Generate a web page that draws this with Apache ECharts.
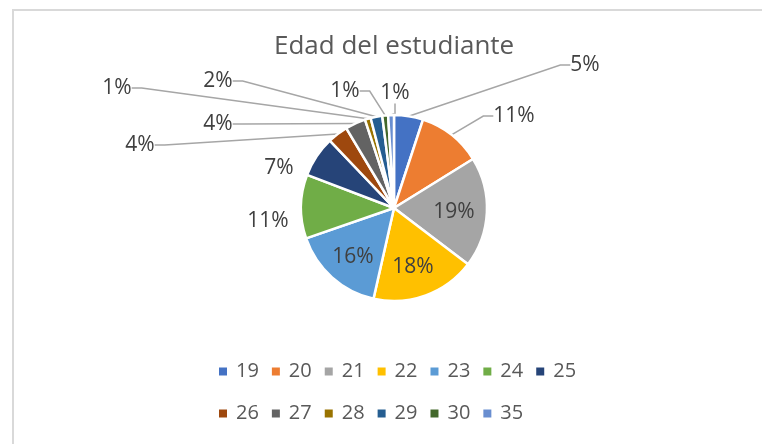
<!DOCTYPE html>
<html>
<head>
<meta charset="utf-8">
<script src="https://cdn.jsdelivr.net/npm/echarts@6/dist/echarts.min.js"></script>
<style>
  html, body { margin: 0; padding: 0; background: #fff; }
  #frame { position: absolute; left: 12px; top: 9px; width: 800px; height: 500px;
           border-left: 2px solid #d9d9d9; border-top: 2px solid #d9d9d9; }
  #chart { position: absolute; left: 0; top: 0; width: 762px; height: 444px; }
</style>
</head>
<body>
<div id="frame"></div>
<div id="chart"></div>
<script>
const ages = ['19', '20', '21', '22', '23', '24', '25', '26', '27', '28', '29', '30', '35']
const shares = [5, 11, 19, 18, 16, 11, 7, 3.5, 3.5, 1, 2, 1, 1]
const colors = ['#4472C4', '#ED7D31', '#A5A5A5', '#FFC000', '#5B9BD5', '#70AD47', '#264478',
  '#9E480E', '#636363', '#997300', '#255E91', '#43682B', '#698ED0']

// where each percentage label sits (Excel placed them by hand-ish)
const labelSpots = [
  [585, 65], [514, 116], [454, 212], [413, 267], [353, 257], [268, 221], [279, 168],
  [140, 145], [218, 124], [117, 88], [218, 81], [345, 91], [395, 93]
]
const insideIdx = [2, 3, 4]
const noLineIdx = [5, 6]

const font = '"Open Sans", sans-serif'
const chart = echarts.init(document.getElementById('chart'))

chart.setOption({
  animation: false,
  color: colors,
  title: {
    text: 'Edad del estudiante',
    left: 269,
    top: 29,
    textStyle: { fontFamily: font, fontSize: 26, fontWeight: 'normal', color: '#595959' }
  },
  legend: {
    data: ages,
    left: 212,
    top: 351,
    width: 385,
    icon: 'rect',
    itemWidth: 10,
    itemHeight: 10,
    itemGap: 11,
    textStyle: { fontFamily: font, fontSize: 20, color: '#595959', lineHeight: 31, padding: [0, 0, 0, 3] }
  },
  series: [{
    type: 'pie',
    center: [394, 208],
    radius: 93,
    startAngle: 90,
    clockwise: true,
    avoidLabelOverlap: false,
    itemStyle: { borderColor: '#fff', borderWidth: 2.5 },
    label: {
      show: true,
      position: 'outside',
      formatter: p => Math.round(p.percent) + '%',
      fontFamily: font,
      fontSize: 21,
      color: '#404040'
    },
    labelLine: {
      show: true,
      length: 10,
      length2: 10,
      lineStyle: { color: '#A6A6A6', width: 1.5 }
    },
    labelLayout: function (p) {
      const s = labelSpots[p.dataIndex]
      return { x: s[0], y: s[1], align: 'center', verticalAlign: 'middle' }
    },
    data: ages.map((a, i) => ({
      name: a,
      value: shares[i],
      label: insideIdx.includes(i) ? { position: 'inside' } : undefined,
      labelLine: noLineIdx.includes(i) ? { show: false } : undefined
    }))
  }]
})
</script>
</body>
</html>
